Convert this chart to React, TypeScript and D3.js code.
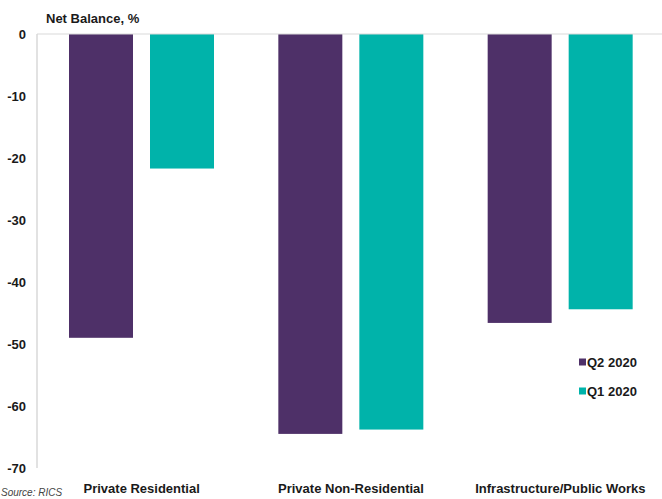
import React from "react";
import * as d3 from "d3";

const categories = ["Private Residential", "Private Non-Residential", "Infrastructure/Public Works"];
const seriesNames = ["Q2 2020", "Q1 2020"];
const q2Values = [-49.0, -64.5, -46.6];
const q1Values = [-21.7, -63.8, -44.4];
const yTicks = [0, -10, -20, -30, -40, -50, -60, -70];
const colors = ["#4E3068", "#00B3AA"];

const W = 662;
const H = 499;

export default function App() {
  const x0 = d3.scaleBand<string>().domain(categories).range([37, 665]).padding(0);
  const y = d3.scaleLinear().domain([0, -70]).range([34, 468]);
  const x1 = d3.scaleBand<string>().domain(seriesNames).range([32, 177]).paddingInner(0.21).paddingOuter(0);
  const seriesVals = [q2Values, q1Values];
  const font = "'Liberation Sans', Arial, sans-serif";
  const textColor = "#1a1a1a";

  return (
    <svg width={W} height={H} style={{ position: "absolute", left: 0, top: 0, background: "#fff" }} fontFamily={font}>
      <text x={46} y={23} fontSize={13} fontWeight="bold" fill={textColor}>Net Balance, %</text>
      {yTicks.map((t) => (
        <text key={t} x={26} y={y(t)} dy="0.35em" textAnchor="end" fontSize={13} fontWeight="bold" fill={textColor}>
          {t}
        </text>
      ))}
      {categories.map((c, i) =>
        seriesNames.map((s, j) => {
          const v = seriesVals[j][i];
          const xPos = (x0(c) as number) + (x1(s) as number);
          return (
            <rect
              key={c + s}
              x={xPos}
              y={y(0)}
              width={x1.bandwidth()}
              height={y(v) - y(0)}
              fill={colors[j]}
            />
          );
        })
      )}
      <line x1={37} x2={662} y1={y(0)} y2={y(0)} stroke="#D9D9D9" strokeWidth={1} />
      <line x1={37} x2={37} y1={y(0)} y2={y(-70)} stroke="#D9D9D9" strokeWidth={1.5} />
      {categories.map((c) => (
        <text
          key={c}
          x={(x0(c) as number) + x0.bandwidth() / 2}
          y={493}
          textAnchor="middle"
          fontSize={13}
          fontWeight="bold"
          fill={textColor}
        >
          {c}
        </text>
      ))}
      {seriesNames.map((s, j) => (
        <g key={s} transform={`translate(579, ${362 + j * 29})`}>
          <rect x={0} y={-3.5} width={7} height={7} fill={colors[j]} />
          <text x={8} y={0} dy="0.35em" fontSize={13} fontWeight="bold" fill={textColor}>{s}</text>
        </g>
      ))}
      <text x={1} y={496} fontSize={10} fontStyle="italic" fill="#444">Source: RICS</text>
    </svg>
  );
}
